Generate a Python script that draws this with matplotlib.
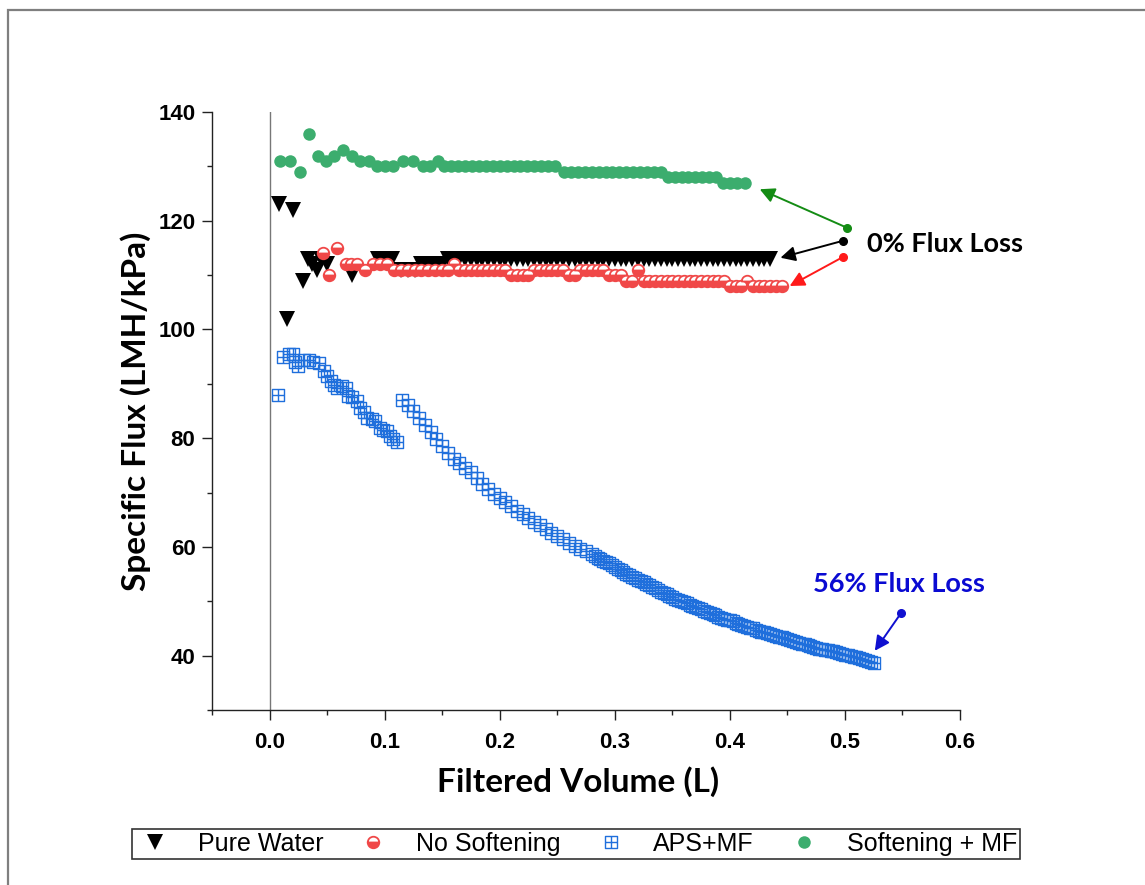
"""
plot.py
=======
Specific flux vs. filtered volume for the pure-water baseline and the three
feed waters (no softening, APS+MF, softening + MF), with flux-loss callouts.
Writes ``out.png``.
"""

import matplotlib.pyplot as plt
from matplotlib.lines import Line2D
from matplotlib.patches import Rectangle
from matplotlib.path import Path
from matplotlib.ticker import FormatStrFormatter, MultipleLocator

# --- Data: filtered volume (L) and specific flux (LMH/kPa) -----------------
pure_x = [0.008, 0.015, 0.020, 0.029, 0.033, 0.037, 0.041, 0.045, 0.050,
          0.072, 0.094, 0.100, 0.106, 0.114, 0.120, 0.126, 0.132, 0.138,
          0.144, 0.150, 0.155, 0.160, 0.165, 0.170, 0.175, 0.180, 0.185,
          0.190, 0.195, 0.200, 0.205, 0.210, 0.215, 0.220, 0.225, 0.230,
          0.235, 0.240, 0.245, 0.250, 0.255, 0.260, 0.265, 0.270, 0.275,
          0.280, 0.285, 0.290, 0.295, 0.300, 0.305, 0.310, 0.315, 0.320,
          0.325, 0.330, 0.335, 0.340, 0.345, 0.350, 0.355, 0.360, 0.365,
          0.370, 0.375, 0.380, 0.385, 0.390, 0.395, 0.400, 0.405, 0.410,
          0.415, 0.420, 0.425, 0.430, 0.435]
pure_y = [123, 102, 122, 109, 113, 112, 111, 113, 112,
          110, 113, 113, 113, 111, 111, 111, 112, 112,
          112, 112, 113, 113, 113, 113, 113, 113, 113,
          113, 113, 113, 113, 113, 113, 113, 113, 113,
          113, 113, 113, 113, 113, 113, 113, 113, 113,
          113, 113, 113, 113, 113, 113, 113, 113, 113,
          113, 113, 113, 113, 113, 113, 113, 113, 113,
          113, 113, 113, 113, 113, 113, 113, 113, 113,
          113, 113, 113, 113, 113]

nosoft_x = [0.046, 0.052, 0.059, 0.066, 0.071, 0.076, 0.083, 0.090, 0.096,
            0.102, 0.108, 0.114, 0.120, 0.126, 0.132, 0.138, 0.144, 0.150,
            0.155, 0.160, 0.165, 0.170, 0.175, 0.180, 0.185, 0.190, 0.195,
            0.200, 0.205, 0.210, 0.215, 0.220, 0.225, 0.230, 0.235, 0.240,
            0.245, 0.250, 0.255, 0.260, 0.265, 0.270, 0.275, 0.280, 0.285,
            0.290, 0.295, 0.300, 0.305, 0.310, 0.315, 0.320, 0.325, 0.330,
            0.335, 0.340, 0.345, 0.350, 0.355, 0.360, 0.365, 0.370, 0.375,
            0.380, 0.385, 0.390, 0.395, 0.400, 0.405, 0.410, 0.415, 0.420,
            0.425, 0.430, 0.435, 0.440, 0.445]
nosoft_y = [114, 110, 115, 112, 112, 112, 111, 112, 112,
            112, 111, 111, 111, 111, 111, 111, 111, 111,
            111, 112, 111, 111, 111, 111, 111, 111, 111,
            111, 111, 110, 110, 110, 110, 111, 111, 111,
            111, 111, 111, 110, 110, 111, 111, 111, 111,
            111, 110, 110, 110, 109, 109, 111, 109, 109,
            109, 109, 109, 109, 109, 109, 109, 109, 109,
            109, 109, 109, 109, 108, 108, 108, 109, 108,
            108, 108, 108, 108, 108]

# APS+MF: volume steps shrink as the flux drops, so the tail is sampled finer
aps_x = [0.007, 0.012, 0.017, 0.020, 0.022, 0.025, 0.030, 0.034, 0.038,
         0.043, 0.047, 0.050, 0.053, 0.056, 0.059, 0.063, 0.066, 0.068,
         0.072, 0.076, 0.079, 0.082, 0.085, 0.089, 0.092, 0.096, 0.099,
         0.102, 0.105, 0.107, 0.111,
         0.115, 0.120, 0.125, 0.130, 0.135, 0.140, 0.145, 0.150, 0.155,
         0.160, 0.165, 0.170, 0.175, 0.180, 0.185, 0.190, 0.195, 0.200,
         0.205, 0.210, 0.215, 0.220, 0.225, 0.230, 0.235, 0.240, 0.245,
         0.250, 0.255, 0.260, 0.265, 0.270, 0.275,
         0.2800, 0.2825, 0.2850, 0.2875, 0.2900, 0.2925, 0.2950, 0.2975,
         0.3000, 0.3025, 0.3050, 0.3075, 0.3100, 0.3125, 0.3150, 0.3175,
         0.3200, 0.3225, 0.3250, 0.3275, 0.3300, 0.3325, 0.3350, 0.3375,
         0.3400, 0.3425, 0.3450, 0.3475, 0.3500, 0.3525, 0.3550, 0.3575,
         0.3600, 0.3625, 0.3650, 0.3675, 0.3700, 0.3725, 0.3750, 0.3775,
         0.3800, 0.3825, 0.3850, 0.3875, 0.3900, 0.3925, 0.3950, 0.3975,
         0.4000, 0.4025, 0.4050, 0.4075, 0.4100, 0.4125, 0.4150, 0.4175,
         0.4200, 0.4225, 0.4250, 0.4275, 0.4300, 0.4325, 0.4350, 0.4375,
         0.4400, 0.4425, 0.4450, 0.4475, 0.4500, 0.4525, 0.4550, 0.4575,
         0.4600, 0.4625, 0.4650, 0.4675, 0.4700, 0.4725, 0.4750, 0.4775,
         0.4800, 0.4825, 0.4850, 0.4875, 0.4900, 0.4925, 0.4950, 0.4975,
         0.5000, 0.5025, 0.5050, 0.5075, 0.5100, 0.5125, 0.5150, 0.5175,
         0.5200, 0.5225, 0.5250]
aps_y = [88.0, 95.0, 95.5, 95.5, 94.0, 93.3, 94.4, 94.4, 94.0,
         93.9, 92.4, 91.5, 90.5, 89.8, 89.3, 89.6, 89.2, 87.8,
         87.5, 86.9, 85.6, 84.8, 83.8, 83.5, 83.2, 81.9, 81.6,
         81.4, 80.5, 79.9, 79.3,
         87.0, 86.2, 85.0, 83.8, 82.4, 81.2, 79.8, 78.6, 77.3,
         76.2, 75.4, 74.6, 73.8, 72.6, 71.6, 70.7, 69.8, 69.0,
         68.2, 67.5, 66.7, 66.0, 65.3, 64.6, 64.0, 63.3, 62.6,
         62.0, 61.4, 60.8, 60.2, 59.7, 59.2,
         58.7, 58.3, 58.0, 57.8, 57.5, 57.2, 57.0, 56.7,
         56.4, 56.0, 55.7, 55.4, 55.1, 54.8, 54.5, 54.2,
         54.0, 53.7, 53.5, 53.2, 53.0, 52.7, 52.4, 52.1,
         51.8, 51.6, 51.3, 51.0, 50.8, 50.5, 50.3, 50.1,
         49.9, 49.6, 49.4, 49.1, 48.9, 48.7, 48.5, 48.2,
         48.0, 47.8, 47.6, 47.4, 47.2, 47.0, 46.8, 46.6,
         46.5, 46.3, 46.1, 45.9, 45.7, 45.5, 45.3, 45.1,
         45.0, 44.8, 44.6, 44.4, 44.3, 44.1, 44.0, 43.8,
         43.7, 43.5, 43.4, 43.2, 43.0, 42.8, 42.7, 42.5,
         42.4, 42.2, 42.1, 41.9, 41.8, 41.6, 41.5, 41.3,
         41.2, 41.1, 41.0, 40.9, 40.8, 40.6, 40.5, 40.3,
         40.2, 40.1, 40.0, 39.8, 39.7, 39.5, 39.4, 39.2,
         39.1, 38.9, 38.7]

soft_x = [0.009, 0.018, 0.026, 0.034, 0.042, 0.049, 0.056, 0.064, 0.072,
          0.079, 0.086, 0.093, 0.100, 0.107, 0.116, 0.125, 0.133, 0.139,
          0.146, 0.152, 0.158, 0.164, 0.170, 0.176, 0.182, 0.188, 0.194,
          0.200, 0.206, 0.212, 0.218, 0.224, 0.230, 0.236, 0.242, 0.248,
          0.256, 0.262, 0.268, 0.274, 0.280, 0.286, 0.292, 0.298, 0.304,
          0.310, 0.316, 0.322, 0.328, 0.334, 0.340, 0.346, 0.352, 0.358,
          0.364, 0.370, 0.376, 0.382, 0.388, 0.394, 0.400, 0.406, 0.413]
soft_y = [131, 131, 129, 136, 132, 131, 132, 133, 132,
          131, 131, 130, 130, 130, 131, 131, 130, 130,
          131, 130, 130, 130, 130, 130, 130, 130, 130,
          130, 130, 130, 130, 130, 130, 130, 130, 130,
          129, 129, 129, 129, 129, 129, 129, 129, 129,
          129, 129, 129, 129, 129, 129, 128, 128, 128,
          128, 128, 128, 128, 128, 127, 127, 127, 127]

LABELS = ["Pure Water", "No Softening", "APS+MF", "Softening + MF"]

# Callout arrows: (tail, head, colour), tail/head in data units
ARROWS = [
    ((0.502, 118.7), (0.426, 125.8), "#148c14"),
    ((0.498, 116.3), (0.444, 113.2), "black"),
    ((0.498, 113.3), (0.452, 108.0), "#ff1a1a"),
    ((0.549, 47.9), (0.526, 40.9), "#1010d0"),
]

# --- Style ------------------------------------------------------------------
C_PURE = "black"
C_NOSOFT = "#f04848"
C_APS = "#1f6fdc"
C_SOFT = "#3cad6e"
LABEL_FONT = "Lato"
TICK_FONT = "Liberation Sans"

# open square with a cross inside
SQ_CROSS = Path(
    [(-1, -1), (1, -1), (1, 1), (-1, 1), (-1, -1),
     (0, -1), (0, 1), (-1, 0), (1, 0)],
    [Path.MOVETO, Path.LINETO, Path.LINETO, Path.LINETO, Path.CLOSEPOLY,
     Path.MOVETO, Path.LINETO, Path.MOVETO, Path.LINETO],
)

fig = plt.figure(figsize=(11.45, 8.85), dpi=100)
ax = fig.add_axes([0.1852, 0.1977, 0.6532, 0.6757])

# outer frame of the page
fig.patches.append(Rectangle((7.5 / 1145, -0.1), 1.2, 0.9887 + 0.1,
                             transform=fig.transFigure, fill=False,
                             edgecolor="#7f7f7f", linewidth=1.6))

ax.axvline(0.0, color="#777777", linewidth=1.0, zorder=1)

pure_kw = dict(linestyle="none", marker="v", markersize=11,
               color=C_PURE, markeredgewidth=0)
nosoft_kw = dict(linestyle="none", marker="o", markersize=8.3,
                 fillstyle="bottom", markerfacecolor=C_NOSOFT,
                 markerfacecoloralt="white", markeredgecolor=C_NOSOFT,
                 markeredgewidth=1.3)
aps_kw = dict(linestyle="none", marker=SQ_CROSS, markersize=8.5,
              markerfacecolor="none", markeredgecolor=C_APS,
              markeredgewidth=1.0)
soft_kw = dict(linestyle="none", marker="o", markersize=9,
               color=C_SOFT, markeredgewidth=0)

ax.plot(aps_x, aps_y, zorder=3, **aps_kw)
ax.plot(soft_x, soft_y, zorder=3, **soft_kw)
ax.plot(pure_x, pure_y, zorder=4, **pure_kw)
ax.plot(nosoft_x, nosoft_y, zorder=5, **nosoft_kw)

# --- Callouts ---------------------------------------------------------------
for (tail, head, col) in ARROWS:
    ax.annotate("", xy=head, xytext=tail,
                arrowprops=dict(arrowstyle="-|>,head_length=0.55,head_width=0.28",
                                color=col, lw=1.4, shrinkA=0, shrinkB=0,
                                mutation_scale=16))
    ax.plot(*tail, marker="o", markersize=5.5, color=col, zorder=6)

ax.text(0.519, 115.7, "0% Flux Loss", fontsize=19.5, fontweight="bold",
        family=LABEL_FONT, ha="left", va="center", color="black")
ax.text(0.472, 53.2, "56% Flux Loss", fontsize=19.5, fontweight="bold",
        family=LABEL_FONT, ha="left", va="center", color="#0a0ad2")

# --- Axes -------------------------------------------------------------------
ax.set_xlim(-0.05, 0.6)
ax.set_ylim(30, 140)
ax.xaxis.set_major_locator(MultipleLocator(0.1))
ax.xaxis.set_minor_locator(MultipleLocator(0.05))
ax.xaxis.set_major_formatter(FormatStrFormatter("%.1f"))
ax.yaxis.set_major_locator(MultipleLocator(20))
ax.yaxis.set_minor_locator(MultipleLocator(10))

for side in ("top", "right"):
    ax.spines[side].set_visible(False)
for side in ("left", "bottom"):
    ax.spines[side].set_linewidth(1.0)
    ax.spines[side].set_color("#222222")

ax.tick_params(which="major", direction="out", length=7, width=1.0,
               color="#222222", pad=5)
ax.tick_params(which="minor", direction="out", length=3.5, width=1.0,
               color="#222222")
ax.tick_params(axis="x", which="major", pad=9)
for lab in ax.get_xticklabels() + ax.get_yticklabels():
    lab.set_family(TICK_FONT)
    lab.set_fontweight("bold")
    lab.set_fontsize(16)

ax.set_xlabel("Filtered Volume (L)", fontsize=24, fontweight="bold",
              family=LABEL_FONT, labelpad=9)
ax.xaxis.label.set_x(0.489)   # sits a touch left of the axis centre
ax.set_ylabel("Specific Flux (LMH/kPa)", fontsize=24, fontweight="bold",
              family=LABEL_FONT, labelpad=5)

# --- Legend -----------------------------------------------------------------
handles = [Line2D([], [], **pure_kw), Line2D([], [], **nosoft_kw),
           Line2D([], [], **aps_kw), Line2D([], [], **soft_kw)]
leg = fig.legend(handles, LABELS, ncol=4, loc="center", mode="expand",
                 bbox_to_anchor=(0.1153, 0.0271, 0.7755, 0.0384),
                 prop={"family": TICK_FONT, "size": 18},
                 frameon=True, fancybox=False, edgecolor="black",
                 borderpad=0.12, handlelength=1.6, handletextpad=0.9,
                 borderaxespad=0)
leg.get_frame().set_linewidth(1.2)

fig.savefig("out.png", dpi=100, facecolor="white")
